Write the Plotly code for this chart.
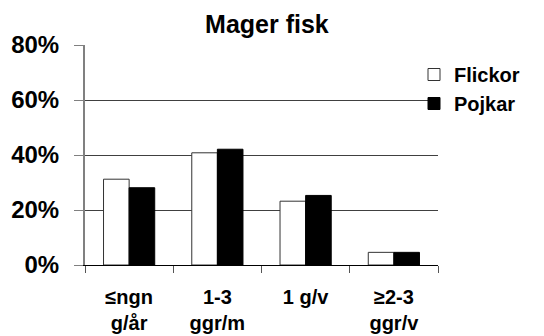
import plotly.graph_objects as go

categories = ["≤ngn<br>g/år", "1-3<br>ggr/m", "1 g/v", "≥2-3<br>ggr/v"]
flickor = [31.2, 40.8, 23.2, 4.6]
pojkar = [28.1, 42.1, 25.3, 4.6]
y_ticks = [0, 20, 40, 60, 80]
y_labels = ["0%", "20%", "40%", "60%", "80%"]

FONT = "Liberation Sans, Arial, sans-serif"
W, H = 544, 336

fig = go.Figure()
fig.add_trace(go.Bar(name="<b>Flickor</b>", x=categories, y=flickor,
                     marker=dict(color="white", line=dict(color="#333333", width=1))))
fig.add_trace(go.Bar(name="<b>Pojkar</b>", x=categories, y=pojkar,
                     marker=dict(color="black", line=dict(color="black", width=1))))

fig.update_layout(
    width=W, height=H,
    margin=dict(l=85, r=106, t=45, b=71, autoexpand=False),
    paper_bgcolor="white", plot_bgcolor="white",
    barmode="group", bargap=0.42, bargroupgap=0,
    font=dict(family=FONT, color="black"),
    title=dict(text="<b>Mager fisk</b>", x=(85 + 438) / 2 / W + 0.01, xanchor="center",
               xref="container", y=1 - 15 / H, yref="container", yanchor="top",
               font=dict(size=25, family=FONT)),
    legend=dict(x=414 / W, xanchor="left", xref="container",
                y=1 - 55 / H, yanchor="top", yref="container",
                font=dict(size=20, family=FONT), bgcolor="rgba(255,255,255,0)",
                itemwidth=30, tracegroupgap=0, traceorder="normal"),
    xaxis=dict(showline=True, linecolor="black", linewidth=1, automargin=False,
               tickson="boundaries", ticks="outside", ticklen=7, tickcolor="#555555",
               tickfont=dict(size=20, family=FONT), ticklabelstandoff=14),
    yaxis=dict(range=[0, 80], tickvals=y_ticks, ticktext=[f"<b>{t}</b>" for t in y_labels],
               showline=True, linecolor="#808080", linewidth=2, automargin=False,
               ticks="outside", ticklen=9, tickcolor="#808080",
               showgrid=True, gridcolor="#404040", gridwidth=1,
               zeroline=False, tickfont=dict(size=24, family=FONT), ticklabelstandoff=10),
)
fig.update_xaxes(ticktext=[f"<b>{c}</b>" for c in categories], tickvals=categories)

fig.write_html("out.html")
